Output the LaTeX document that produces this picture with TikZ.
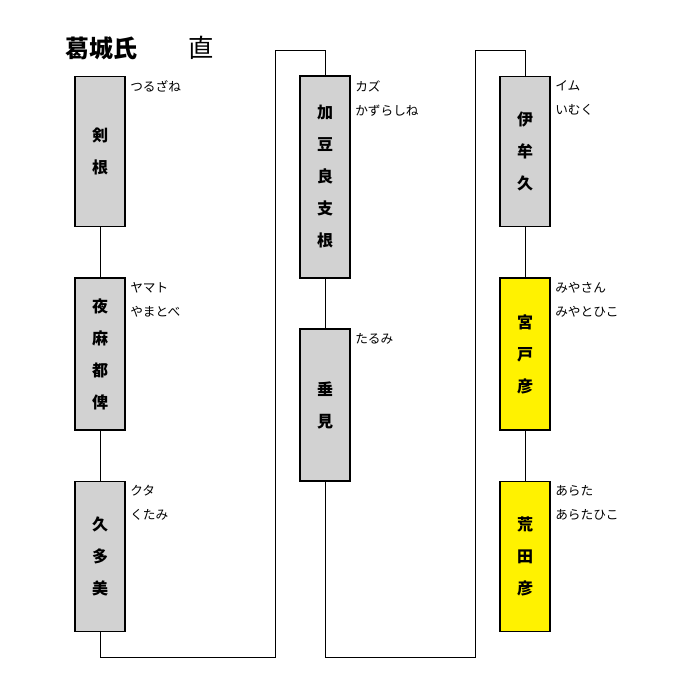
\documentclass[tikz,border=0pt]{standalone}
\usepackage{fontspec}
\newfontfamily\jpfont{Noto Sans CJK JP}
\usetikzlibrary{positioning}
\tikzset{
  person/.style={rectangle, draw=black, thick, minimum width=37.5pt, text width=30pt, align=center, font=\jpfont\bfseries\fontsize{12}{24}\selectfont, fill=gray!35},
  heir/.style={person, fill=yellow},
  yomi/.style={anchor=north west, align=left, inner sep=0pt, font=\jpfont\fontsize{9.5}{18}\selectfont},
  line/.style={draw=black, thin}
}
\begin{document}
\begin{tikzpicture}[x=0.75pt,y=-0.75pt]
\useasboundingbox (0,0) rectangle (676,683);
% title
\node (title) at (101,48) {\jpfont\bfseries\fontsize{18}{20}\selectfont 葛城氏};
\node (kabane) at (201,48) {\jpfont\fontsize{19}{20}\selectfont 直};

% first column
\node (tsurugi) [person, minimum height=113pt] at (100,151.5) {剣\\根};
\node (yamato) [person, minimum height=114pt] at (100,354) {夜\\麻\\都\\俾};
\node (kutami) [person, minimum height=113pt] at (100,556.5) {久\\多\\美};
% second column
\node (kazura) [person, minimum height=151.5pt] at (325,177) {加\\豆\\良\\支\\根};
\node (tarumi) [person, minimum height=114pt] at (325,405) {垂\\見};
% third column
\node (imuku) [person, minimum height=113pt] at (525,151.5) {伊\\牟\\久};
\node (miyato) [heir, minimum height=114pt] at (525,354) {宮\\戸\\彦};
\node (arata) [heir, minimum height=113pt] at (525,556.5) {荒\\田\\彦};

% readings
\node [yomi] at (130,80) {つるざね};
\node [yomi] at (130,282) {ヤマト\\やまとべ};
\node [yomi] at (130,485) {クタ\\くたみ};
\node [yomi] at (355,80) {カズ\\かずらしね};
\node [yomi] at (355,333) {たるみ};
\node [yomi] at (555,80) {イム\\いむく};
\node [yomi] at (555,282) {みやさん\\みやとひこ};
\node [yomi] at (555,485) {あらた\\あらたひこ};

% lines
\draw [line] (tsurugi) -- (yamato);
\draw [line] (yamato) -- (kutami);
\draw [line] (kutami.south) -- ++(0,25) -| (275,50) -| (kazura.north);
\draw [line] (kazura) -- (tarumi);
\draw [line] (tarumi.south) -- ++(0,176) -| (475,50) -| (imuku.north);
\draw [line] (imuku) -- (miyato);
\draw [line] (miyato) -- (arata);
\end{tikzpicture}
\end{document}
